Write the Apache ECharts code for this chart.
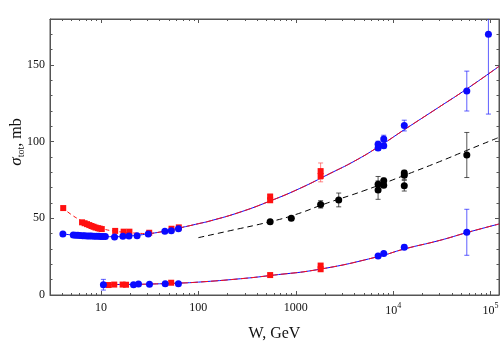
<!DOCTYPE html>
<html><head><meta charset="utf-8">
<script src="https://cdn.jsdelivr.net/npm/echarts@6/dist/echarts.min.js"></script>
<style>html,body{margin:0;padding:0;background:#fff}#c{width:500px;height:343px}</style>
</head><body><div id="c"></div><script>
// ---------- tick labels ----------
const xMajorTicks = [10, 100, 1000, 10000, 100000];
const xMinorTicks = [4,5,6,7,8,9, 20,30,40,50,60,70,80,90, 200,300,400,500,600,700,800,900,
  2000,3000,4000,5000,6000,7000,8000,9000, 20000,30000,40000,50000,60000,70000,80000,90000];
const yMajorTicks = [0, 50, 100, 150];
const yMinorTicks = [10,20,30,40,60,70,80,90,110,120,130,140,160,170];

// ---------- total cross section, blue circles ----------
const totBlueW = [4.07, 5.2,5.5,5.8,6.1,6.5,6.8,7.2,7.6,8.0,8.5,9.0,9.5,10.0,10.5,11.1,
  13.8,16.8,19.4,23.5,30.6,45.3,52.8,62.5, 7000,7000,8000,8000,13000,57000,95000];
const totBlueY = [39.8, 39.1,39.0,38.9,38.8,38.7,38.6,38.5,38.4,38.4,38.3,38.3,38.3,38.2,38.2,38.2,
  37.9,38.3,38.5,38.7,39.8,41.5,41.9,43.2, 98.3,95.8,101.7,97.3,110.5,133,170];
const totBlueErrW = [7000,7000,8000,8000,13000,57000,95000];
const totBlueErrY = [98.3,95.8,101.7,97.3,110.5,133,170];
const totBlueErrE = [2.0,1.5,2.5,1.5,3.5,13,52];

// ---------- total cross section, red squares ----------
const totRedW = [4.1, 6.4,6.8,7.2,7.6,8.0,8.4,8.8,9.3,9.7,10.2, 14.0,17.1,19.6,31.3,53.0,63.0, 546,546,1800,1800];
const totRedY = [56.7, 47.4,46.8,46.2,45.6,45.0,44.5,44.0,43.6,43.3,43.0, 41.8,41.3,41.3,40.6,43.2,44.1, 64.2,61.8,80.8,77.6];
const totRedErrW = [546,546,1800,1800];
const totRedErrY = [64.2,61.8,80.8,77.6];
const totRedErrE = [1.5,1.5,5.3,3.8];

// ---------- elastic cross section ----------
const elBlueW = [10.6,21.6,24.3,31.5,45.7,62.4, 7000,8000,13000,57000];
const elBlueY = [6.7,6.7,7.2,7.0,7.3,7.3, 25.5,27.0,31.2,40.9];
const elBlueErrW = [10.6,7000,8000,13000,57000];
const elBlueErrY = [6.7,25.5,27.0,31.2,40.9];
const elBlueErrE = [3.5,0.8,0.8,1.5,15];
const elRedW = [12.0,13.7,16.7,18.1,52.6, 546,1800,1800];
const elRedY = [6.5,6.8,6.8,6.7,8.0, 13.0,19.2,16.8];
const elRedErrW = [1800,1800];
const elRedErrY = [19.2,16.8];
const elRedErrE = [0.9,1.0];

// ---------- inelastic, black ----------
const inelW = [546,900,1800,2760,7000,7000,8000,8000,13000,13000,13000,57000];
const inelY = [47.8,50.0,59.1,62.0,72.3,68.4,74.5,71.5,79.5,78.1,71.3,91.3];
const inelE = [1.0,0.8,2.4,4.5,5.0,6.0,1.7,1.0,1.8,2.9,3.5,14.7];

// ---------- model curves ----------
const curveTotW = [4,5,6,8,10,14,20,30,45,65,100,132,267,540,1100,2240,4000,7000,13000,30000,57000,122000];
const curveTotY = [39.8,39.2,38.8,38.4,38.2,38.0,38.5,39.8,41.6,43.8,46.5,48.3,54.0,61.2,69.5,79.2,87.3,96.5,107.8,122.8,134.4,149.1];
const curveRedLowW = [4,5,6,7,8,10,14,20,30];
const curveRedLowY = [57.0,52.3,49.2,47.0,45.4,43.4,41.6,40.6,40.0];
const curveElW = [10,20,30,60,100,270,546,1800,7000,13000,30000,57000,122000];
const curveElY = [6.8,6.9,7.1,7.7,8.4,10.6,12.7,16.9,25.0,30.0,35.6,40.7,46.3];
const curveInelW = [100,200,546,1000,2000,5000,13000,30000,57000,122000];
const curveInelY = [37.4,41.6,47.8,52.5,59.5,68.0,78.0,87.0,94.3,102.8];

// ---------- build ----------
const zip = (a, b) => a.map((v, i) => [v, b[i]]);
const errData = (w, y, e) => w.map((v, i) => [v, y[i] - e[i], y[i] + e[i]]);
const YMAX = 180;
function errRender(color) {
  return function (params, api) {
    const x = api.value(0), lo = api.value(1), hi = api.value(2);
    const p0 = api.coord([x, Math.max(lo, 0)]);
    const p1 = api.coord([x, Math.min(hi, YMAX)]);
    const w = 2.5, st = { stroke: color, lineWidth: 1 };
    const ch = [{ type: 'line', shape: { x1: p0[0], y1: p0[1], x2: p1[0], y2: p1[1] }, style: st }];
    if (lo >= 0) ch.push({ type: 'line', shape: { x1: p0[0] - w, y1: p0[1], x2: p0[0] + w, y2: p0[1] }, style: st });
    if (hi <= YMAX) ch.push({ type: 'line', shape: { x1: p1[0] - w, y1: p1[1], x2: p1[0] + w, y2: p1[1] }, style: st });
    return { type: 'group', children: ch };
  };
}
const BLUE = '#0a0aff', RED = '#ff1010', BLACK = '#000';
const axCol = '#555';
const FONT = 'Liberation Serif';

function xAx(pos, ticks, len, line, labels) {
  return {
    type: 'log', logBase: 10, position: pos, min: 3, max: 122000, show: true,
    axisLine: { show: line, onZero: false, lineStyle: { color: axCol, width: 1 } },
    axisTick: { show: true, inside: true, length: len, customValues: ticks, lineStyle: { color: axCol } },
    axisLabel: labels ? {
      show: true, customValues: ticks, margin: 7, color: '#111', fontFamily: FONT, fontSize: 12,
      formatter: v => { const e = Math.round(Math.log10(v)); return e >= 4 ? '10{sup|' + e + '}' : String(Math.round(v)); },
      rich: { sup: { fontSize: 8, fontFamily: FONT, color: '#111', padding: [0, 0, 9, 0] } }
    } : { show: false },
    splitLine: { show: false }
  };
}
function yAx(pos, ticks, len, line, labels) {
  return {
    type: 'value', position: pos, min: 0, max: YMAX, show: true,
    axisLine: { show: line, onZero: false, lineStyle: { color: axCol, width: 1 } },
    axisTick: { show: true, inside: true, length: len, customValues: ticks, lineStyle: { color: axCol } },
    axisLabel: labels ? { show: true, customValues: ticks, margin: 5, color: '#111', fontFamily: FONT, fontSize: 12 } : { show: false },
    splitLine: { show: false }
  };
}

const xAxes = [xAx('bottom', xMajorTicks, 4, true, true), xAx('bottom', xMinorTicks, 2, false, false),
  xAx('top', xMajorTicks, 4, true, false), xAx('top', xMinorTicks, 2, false, false)];
xAxes[0].name = 'W, GeV';
xAxes[0].nameLocation = 'middle';
xAxes[0].nameGap = 31;
xAxes[0].nameTextStyle = { fontFamily: FONT, fontSize: 16, color: '#111' };
const yAxes = [yAx('left', yMajorTicks, 4, true, true), yAx('left', yMinorTicks, 2.5, false, false),
  yAx('right', yMajorTicks, 4, true, false), yAx('right', yMinorTicks, 2.5, false, false)];
yAxes[0].name = '{i|σ}{sub|tot}{n|, mb}';
yAxes[0].nameLocation = 'middle';
yAxes[0].nameGap = 24;
yAxes[0].nameMoveOverlap = false;
yAxes[0].nameRotate = 90;
yAxes[0].nameTextStyle = {
  fontFamily: FONT, fontSize: 15, color: '#111', padding: [0, 0, 0, 30],
  rich: {
    i: { fontFamily: FONT, fontSize: 17, fontStyle: 'italic', color: '#111' },
    sub: { fontFamily: FONT, fontSize: 10, color: '#111', padding: [8, 0, 0, 0] },
    n: { fontFamily: FONT, fontSize: 16, color: '#111' }
  }
};

const lineS = (w, y, color, type, z) => ({
  type: 'line', data: zip(w, y), smooth: true, showSymbol: false, silent: true, z: z,
  lineStyle: { color: color, width: 1, type: type }, clip: true
});
const scat = (w, y, color, symbol, size, z) => ({
  type: 'scatter', data: zip(w, y), symbol: symbol, symbolSize: size, z: z,
  itemStyle: { color: color, opacity: 1 }, silent: true
});
const errS = (d, color, z) => ({ type: 'custom', data: d, renderItem: errRender(color), z: z, clip: true, silent: true });
// empty series that bind the frame/tick axes so they are laid out
const binder = i => ({ type: 'scatter', data: [], xAxisIndex: i, yAxisIndex: i, silent: true });

const option = {
  animation: false,
  backgroundColor: '#fff',
  grid: { left: 50, right: 1, top: 19, bottom: 48, containLabel: false, outerBoundsMode: 'none',
    show: true, borderColor: axCol, borderWidth: 1, backgroundColor: 'transparent' },
  xAxis: xAxes,
  yAxis: yAxes,
  series: [
    binder(1), binder(2), binder(3),
    lineS(curveTotW, curveTotY, BLUE, 'solid', 2),
    lineS(curveTotW.slice(7), curveTotY.slice(7), RED, [7, 3], 3),
    lineS(curveRedLowW, curveRedLowY, RED, [4, 3], 3),
    lineS(curveElW, curveElY, BLUE, 'solid', 2),
    lineS(curveElW, curveElY, RED, [7, 3], 3),
    lineS(curveInelW, curveInelY, BLACK, [6, 4], 2),
    errS(errData(totBlueErrW, totBlueErrY, totBlueErrE), 'rgba(40,40,255,0.75)', 4),
    errS(errData(elBlueErrW, elBlueErrY, elBlueErrE), 'rgba(40,40,255,0.75)', 4),
    errS(errData(totRedErrW, totRedErrY, totRedErrE), 'rgba(255,90,90,0.75)', 4),
    errS(errData(elRedErrW, elRedErrY, elRedErrE), 'rgba(255,90,90,0.75)', 4),
    errS(errData(inelW, inelY, inelE), 'rgba(30,30,30,0.75)', 4),
    scat(totRedW, totRedY, RED, 'rect', 6, 5),
    scat(elRedW, elRedY, RED, 'rect', 6, 5),
    scat(totBlueW, totBlueY, BLUE, 'circle', 7, 6),
    scat(elBlueW, elBlueY, BLUE, 'circle', 7, 6),
    scat(inelW, inelY, BLACK, 'circle', 7, 6)
  ]
};
const chart = echarts.init(document.getElementById('c'), null, { renderer: 'canvas' });
chart.setOption(option);
</script></body></html>
